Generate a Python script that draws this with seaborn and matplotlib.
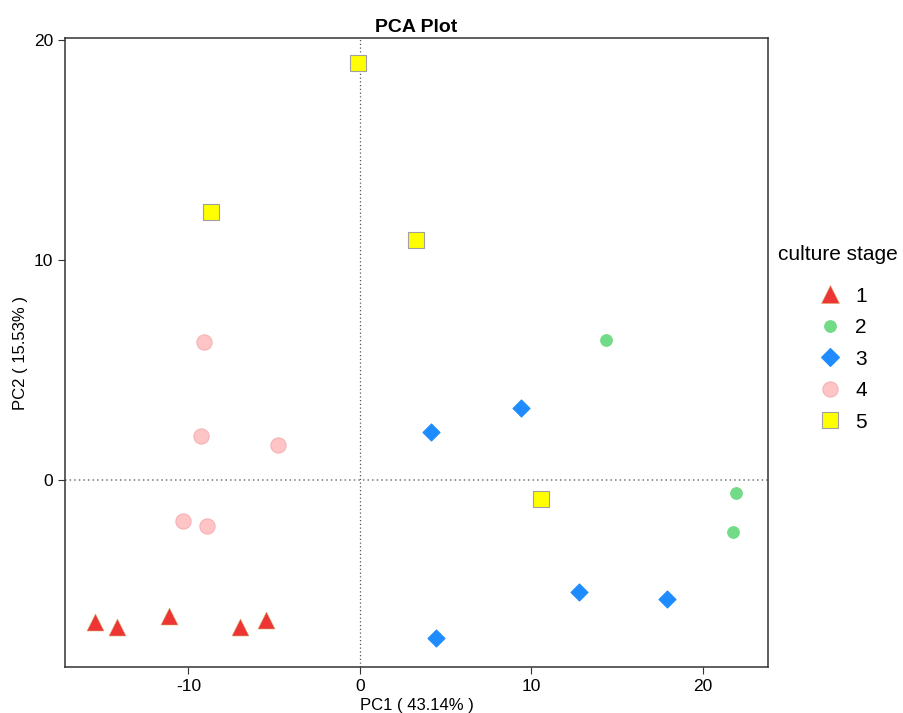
import numpy as np
import pandas as pd
import seaborn as sns
import matplotlib.pyplot as plt
from matplotlib.lines import Line2D

# PCA scores
stage = ["1"] * 5 + ["2"] * 3 + ["3"] * 5 + ["4"] * 5 + ["5"] * 4
pc1 = [-15.47, -14.19, -11.15, -7.00, -5.49,
       14.36, 21.95, 21.77,
       4.14, 9.40, 12.78, 17.92, 4.44,
       -9.11, -9.28, -4.79, -10.33, -8.93,
       -0.12, -8.70, 3.27, 10.57]
pc2 = [-6.45, -6.68, -6.18, -6.68, -6.36,
       6.36, -0.59, -2.36,
       2.18, 3.27, -5.09, -5.41, -7.18,
       6.27, 2.00, 1.59, -1.86, -2.09,
       18.95, 12.18, 10.91, -0.86]

stages = ["1", "2", "3", "4", "5"]
colors = {"1": "#EE3535", "2": "#72DB88", "3": "#1E8CFF", "4": "#FFC4C6", "5": "#FFFF00"}
edges = {"1": "#D8B070", "2": "#72DB88", "3": "#1E8CFF", "4": "#F5B3B5", "5": "#A0A0A0"}
markers = {"1": "^", "2": "o", "3": "D", "4": "o", "5": "s"}
sizes = {"1": 150, "2": 70, "3": 75, "4": 120, "5": 120}
edge_w = {"1": 0.4, "2": 0.8, "3": 0.8, "4": 0.8, "5": 0.8}

df = pd.DataFrame({"PC1": pc1, "PC2": pc2, "stage": stage})

plt.rcParams["font.family"] = ["Liberation Sans", "DejaVu Sans"]
plt.rcParams["axes.unicode_minus"] = False
fig = plt.figure(figsize=(9.04, 7.13), dpi=100)
ax = fig.add_axes([0.0719, 0.0645, 0.7777, 0.8822])

ax.axvline(0, color="#555555", linestyle=(0, (1, 2)), linewidth=0.9, zorder=0)
ax.axhline(0, color="#777777", linestyle=(0, (1, 2)), linewidth=1.1, zorder=0)

for s in stages:
    sub = df[df["stage"] == s]
    sns.scatterplot(data=sub, x="PC1", y="PC2", ax=ax, marker=markers[s],
                    color=colors[s], edgecolor=edges[s], s=sizes[s],
                    linewidth=edge_w[s], legend=False, zorder=3)

ax.set_xlim(-17.2, 23.8)
ax.set_ylim(-8.5, 20.1)
ax.set_xticks([-10, 0, 10, 20])
ax.set_yticks([0, 10, 20])
ax.tick_params(labelsize=12.5, length=5, color="#333333")
for sp in ax.spines.values():
    sp.set_color("#333333")
    sp.set_linewidth(1.1)
ax.set_xlabel("PC1 ( 43.14% )", fontsize=12, labelpad=3)
ax.set_ylabel("PC2 ( 15.53% )", fontsize=12, labelpad=4)
ax.set_title("PCA Plot", fontsize=14, fontweight="bold", pad=4)

handles = [Line2D([], [], linestyle="", marker=markers[s], markerfacecolor=colors[s],
                  markeredgecolor=edges[s], markeredgewidth=edge_w[s],
                  markersize=np.sqrt(sizes[s]) * 1.0)
           for s in stages]
leg = ax.legend(handles, stages, title="culture stage", loc="upper left",
                bbox_to_anchor=(0.997, 0.69), frameon=False, fontsize=15,
                title_fontsize=15, labelspacing=0.6, handletextpad=0.2,
                borderaxespad=0.2)
leg._legend_box.sep = 16

fig.savefig("out.png", dpi=100)
